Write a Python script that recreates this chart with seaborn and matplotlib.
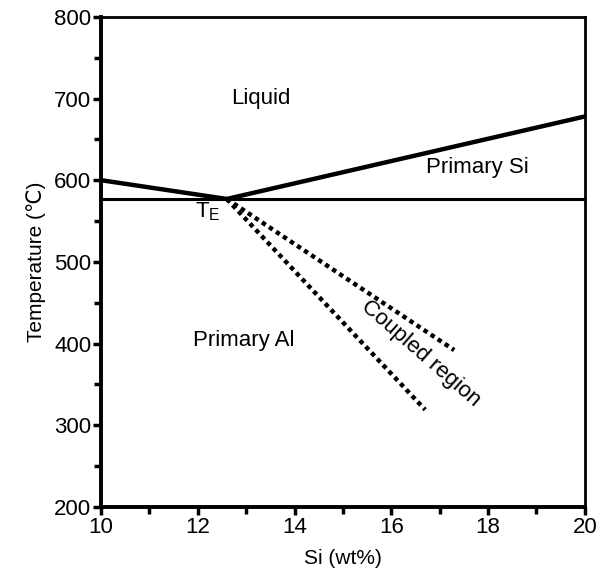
import numpy as np
import pandas as pd
import seaborn as sns
import matplotlib.pyplot as plt
from matplotlib.ticker import MultipleLocator

sns.set_style('ticks')
plt.rcParams['font.family'] = ['Liberation Sans', 'DejaVu Sans']
plt.rcParams['text.color'] = 'black'
plt.rcParams['axes.labelcolor'] = 'black'
plt.rcParams['xtick.color'] = 'black'
plt.rcParams['ytick.color'] = 'black'

# phase diagram lines (Si wt%, temperature in C)
al_liquidus_x = [10, 12.6]
al_liquidus_t = [600, 577]
si_liquidus_x = [12.6, 20]
si_liquidus_t = [577, 678]
eutectic_x = [10, 20]
eutectic_t = [577, 577]
coupled_upper_x = [12.6, 17.3]
coupled_upper_t = [577, 392]
coupled_lower_x = [12.6, 16.7]
coupled_lower_t = [577, 319]

fig = plt.figure(figsize=(6.06, 5.8), dpi=100)
ax = fig.add_axes([0.1667, 0.126, 0.7983, 0.845])

for xs, ts in [(al_liquidus_x, al_liquidus_t), (si_liquidus_x, si_liquidus_t)]:
    sns.lineplot(x=xs, y=ts, ax=ax, color='black', linewidth=3.2, sort=False)
sns.lineplot(x=eutectic_x, y=eutectic_t, ax=ax, color='black', linewidth=2.2, sort=False)
for xs, ts in [(coupled_upper_x, coupled_upper_t), (coupled_lower_x, coupled_lower_t)]:
    sns.lineplot(x=xs, y=ts, ax=ax, color='black', linewidth=3.2, sort=False,
                 linestyle=(0, (1, 0.9)))

ax.set_xlim(10, 20)
ax.set_ylim(200, 800)
ax.xaxis.set_major_locator(MultipleLocator(2))
ax.xaxis.set_minor_locator(MultipleLocator(1))
ax.yaxis.set_major_locator(MultipleLocator(100))
ax.yaxis.set_minor_locator(MultipleLocator(50))
ax.tick_params(which='major', length=6, width=2.5, labelsize=16, pad=1, color='black')
ax.tick_params(which='minor', length=5, width=2.5, color='black')
for side, lw in [('left', 2.8), ('bottom', 2.8), ('top', 2.0), ('right', 2.0)]:
    ax.spines[side].set_linewidth(lw)
    ax.spines[side].set_color('black')

ax.set_xlabel('Si (wt%)', fontsize=15, labelpad=8)
ax.set_ylabel('Temperature (\u2103)', fontsize=15, labelpad=6)

ax.text(13.3, 700, 'Liquid', fontsize=16, ha='center', va='center')
ax.text(17.77, 616, 'Primary Si', fontsize=16, ha='center', va='center')
ax.text(12.95, 404, 'Primary Al', fontsize=16, ha='center', va='center')
ax.text(12.2, 562, '$\\mathregular{T_E}$', fontsize=16, ha='center', va='center')
ax.text(16.6, 388, 'Coupled region', fontsize=16, ha='center', va='center',
        rotation=-41, rotation_mode='anchor')

fig.savefig('out.png', dpi=100)
